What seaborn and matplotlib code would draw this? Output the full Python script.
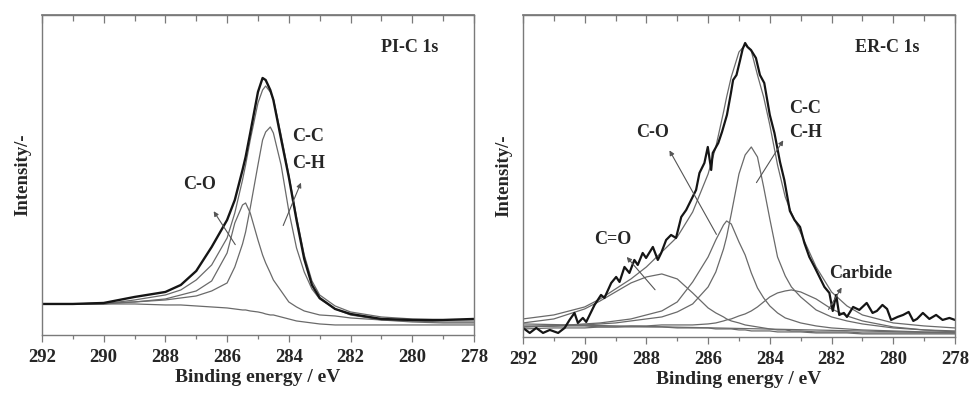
import matplotlib
matplotlib.use("Agg")
import matplotlib.pyplot as plt
import seaborn as sns
import pandas as pd

# ---- PI-C 1s (left panel) : binding energy grid and traced intensities ----
pi_energy = [292, 291, 290, 289, 288, 287.5, 287, 286.5, 286, 285.75, 285.5, 285.4, 285.25, 285,
             284.85, 284.75, 284.6, 284.5, 284.25, 284, 283.75, 283.5, 283.25, 283, 282.5, 282,
             281, 280, 279, 278]
pi_raw = [31, 31, 32, 38, 43, 50, 64, 88, 115, 135, 165, 178, 202, 243,
          257, 255, 245, 235, 196, 158, 115, 76, 50, 37, 26, 21, 16, 15, 15, 16]
pi_fit = [31, 31, 31, 35, 40, 45, 55, 70, 97, 122, 155, 170, 195, 232,
          245, 249, 243, 236, 200, 160, 118, 80, 54, 40, 29, 23, 18, 16, 15, 15]
pi_cc = [31, 31, 31, 33, 35, 37, 39, 44, 52, 68, 91, 103, 127, 170,
         195, 203, 208, 202, 170, 124, 87, 63, 46, 36, 26, 20, 15, 13, 12, 12]
pi_co = [31, 31, 32, 33, 36, 40, 44, 54, 82, 112, 130, 132, 122, 95,
         80, 72, 62, 55, 44, 33, 28, 24, 22, 20, 19, 17, 15, 14, 13, 13]
pi_bg = [31, 31, 31, 31, 30, 30, 29, 28, 27, 26, 25, 25, 24, 23,
         22, 21, 20, 20, 18, 16, 14, 13, 12, 11, 10, 10, 10, 10, 10, 10]

# ---- ER-C 1s (right panel) ----
er_energy = [292, 291, 290, 289.5, 289, 288.5, 288, 287.5, 287, 286.5, 286, 285.75, 285.5, 285.4,
             285.25, 285, 284.8, 284.6, 284.4, 284.2, 284, 283.75, 283.5, 283.3, 283, 282.5, 282,
             281.5, 281, 280, 279, 278]
er_fit = [18, 22, 30, 38, 48, 58, 70, 85, 100, 125, 163, 190, 225, 240,
          260, 285, 292, 286, 262, 240, 212, 172, 140, 124, 104, 70, 45, 31, 22, 14, 11, 9]
er_cc = [10, 11, 12, 13, 14, 16, 18, 20, 25, 33, 50, 65, 88, 100,
         123, 163, 182, 190, 180, 150, 118, 80, 61, 50, 40, 27, 20, 16, 13, 9, 7, 6]
er_co = [10, 11, 13, 14, 16, 18, 22, 26, 35, 55, 80, 97, 112, 116,
         113, 95, 82, 64, 49, 39, 31, 24, 19, 17, 14, 11, 9, 8, 7, 6, 5, 5]
er_cdo = [14, 18, 28, 36, 45, 54, 60, 63, 58, 44, 29, 24, 20, 18,
          16, 14, 12, 11, 10, 9, 8, 7, 7, 6, 6, 5, 5, 5, 4, 4, 4, 4]
er_carbide = [8, 9, 9, 10, 10, 11, 11, 12, 12, 12, 13, 14, 16, 17,
              18, 21, 23, 26, 30, 35, 40, 44, 46, 47, 45, 38, 28, 21, 16, 10, 7, 5]
er_bg = [11, 11, 11, 10, 10, 10, 10, 10, 9, 9, 9, 8, 8, 8,
         8, 7, 7, 6, 6, 6, 6, 5, 5, 5, 5, 4, 4, 4, 3, 3, 3, 3]
er_bg_lin_energy = [292, 278]
er_bg_lin = [13, 4]

er_raw_energy = [292.0, 291.78, 291.57, 291.35, 291.13, 290.86, 290.65, 290.49, 290.33, 290.22,
                 290.06, 289.95, 289.68, 289.47, 289.36, 289.14, 288.98, 288.87, 288.71, 288.55,
                 288.39, 288.28, 288.12, 288.01, 287.79, 287.63, 287.52, 287.36, 287.2, 287.04,
                 286.87, 286.71, 286.55, 286.39, 286.28, 286.12, 286.01, 285.9, 285.85, 285.67,
                 285.55, 285.39, 285.26, 285.19, 285.08, 284.97, 284.88, 284.8, 284.72, 284.61,
                 284.45, 284.32, 284.18, 284.0, 283.85, 283.67, 283.53, 283.35, 283.2, 283.02,
                 282.88, 282.72, 282.55, 282.39, 282.23, 282.07, 281.96, 281.85, 281.75, 281.6,
                 281.5, 281.3, 281.1, 280.86, 280.67, 280.53, 280.35, 280.2, 280.07, 279.86,
                 279.68, 279.5, 279.35, 279.23, 279.04, 278.83, 278.61, 278.4, 278.18, 278.0]
er_raw = [9, 4, 9, 4, 7, 4, 9, 17, 24, 14,
          19, 15, 32, 42, 39, 54, 60, 55, 70, 64,
          77, 72, 84, 79, 90, 77, 84, 97, 102, 99,
          120, 127, 137, 147, 164, 174, 190, 167, 184, 194,
          205, 222, 244, 257, 262, 276, 288, 294, 290, 287,
          279, 262, 254, 222, 204, 175, 157, 126, 117, 110,
          94, 80, 70, 60, 50, 44, 26, 42, 22, 24,
          20, 30, 27, 34, 24, 26, 32, 28, 17, 20,
          22, 25, 16, 18, 24, 18, 22, 17, 19, 17]

sns.set_theme(style="ticks")
plt.rcParams["font.family"] = ["Liberation Serif", "DejaVu Serif"]
plt.rcParams["font.weight"] = "bold"

RAW = "#151515"
COMP = "#6a6a6a"
SPINE = "#7a7a7a"

fig = plt.figure(figsize=(9.69, 3.95), dpi=100)
ax1 = fig.add_axes([0.0433, 0.152, 0.4458, 0.810])
ax2 = fig.add_axes([0.5397, 0.147, 0.4458, 0.815])


def draw(ax, energy, series, lw, color):
    df = pd.DataFrame({"E": energy, "I": series})
    sns.lineplot(data=df, x="E", y="I", ax=ax, color=color, linewidth=lw, sort=False,
                 estimator=None)


# left panel
for s in [pi_bg, pi_co, pi_cc, pi_fit]:
    draw(ax1, pi_energy, s, 0.9, COMP)
draw(ax1, pi_energy, pi_raw, 1.7, RAW)

# right panel
draw(ax2, er_bg_lin_energy, er_bg_lin, 0.9, COMP)
for s in [er_bg, er_carbide, er_cdo, er_co, er_cc, er_fit]:
    draw(ax2, er_energy, s, 0.9, COMP)
draw(ax2, er_raw_energy, er_raw, 1.6, RAW)

arrow = dict(arrowstyle="-|>", color="#555555", lw=0.8, mutation_scale=7)
tfont = dict(fontsize=13, fontweight="bold", ha="center", va="center")

# annotations left
ax1.text(0.852, 0.897, "PI-C 1s", transform=ax1.transAxes, **tfont)
ax1.text(0.616, 0.619, "C-C", transform=ax1.transAxes, **tfont)
ax1.text(0.618, 0.537, "C-H", transform=ax1.transAxes, **tfont)
ax1.text(0.366, 0.469, "C-O", transform=ax1.transAxes, **tfont)
ax1.annotate("", xy=(0.394, 0.394), xytext=(0.451, 0.275), xycoords="axes fraction",
             arrowprops=arrow)
ax1.annotate("", xy=(0.602, 0.484), xytext=(0.556, 0.334), xycoords="axes fraction",
             arrowprops=arrow)

# annotations right
ax2.text(0.843, 0.898, "ER-C 1s", transform=ax2.transAxes, **tfont)
ax2.text(0.653, 0.711, "C-C", transform=ax2.transAxes, **tfont)
ax2.text(0.655, 0.634, "C-H", transform=ax2.transAxes, **tfont)
ax2.text(0.301, 0.634, "C-O", transform=ax2.transAxes, **tfont)
ax2.text(0.208, 0.304, "C=O", transform=ax2.transAxes, **tfont)
ax2.text(0.782, 0.196, "Carbide", transform=ax2.transAxes, **tfont)
ax2.annotate("", xy=(0.606, 0.618), xytext=(0.537, 0.472), xycoords="axes fraction",
             arrowprops=arrow)
ax2.annotate("", xy=(0.336, 0.587), xytext=(0.451, 0.311), xycoords="axes fraction",
             arrowprops=arrow)
ax2.annotate("", xy=(0.236, 0.255), xytext=(0.310, 0.140), xycoords="axes fraction",
             arrowprops=arrow)
ax2.annotate("", xy=(0.741, 0.161), xytext=(0.704, 0.078), xycoords="axes fraction",
             arrowprops=arrow)

for ax, top in [(ax1, 320), (ax2, 322)]:
    ax.set_xlim(292, 278)
    ax.set_ylim(0, top)
    ax.set_xticks([292, 290, 288, 286, 284, 282, 280, 278])
    ax.set_xticks([291, 289, 287, 285, 283, 281, 279], minor=True)
    ax.set_yticks([])
    ax.set_xlabel("Binding energy / eV", fontsize=14, fontweight="bold", labelpad=2)
    ax.set_ylabel("Intensity/-", fontsize=13.5, fontweight="bold", labelpad=8)
    for sp in ax.spines.values():
        sp.set_visible(True)
        sp.set_color(SPINE)
        sp.set_linewidth(1.0)
    ax.tick_params(axis="x", which="major", direction="out", length=5, width=0.9,
                   color=SPINE, labelsize=13.5, pad=5)
    ax.tick_params(axis="x", which="minor", direction="out", length=3, width=0.9,
                   color=SPINE)
    for lab in ax.get_xticklabels():
        lab.set_fontweight("bold")
    sec = ax.secondary_xaxis("top")
    sec.set_xticks([292, 290, 288, 286, 284, 282, 280, 278])
    sec.set_xticks([291, 289, 287, 285, 283, 281, 279], minor=True)
    sec.tick_params(axis="x", which="major", direction="in", length=6, width=0.9,
                    color=SPINE, labeltop=False)
    sec.tick_params(axis="x", which="minor", direction="in", length=4, width=0.9,
                    color=SPINE)
    sec.spines["top"].set_color(SPINE)

fig.savefig("out.png", dpi=100)
